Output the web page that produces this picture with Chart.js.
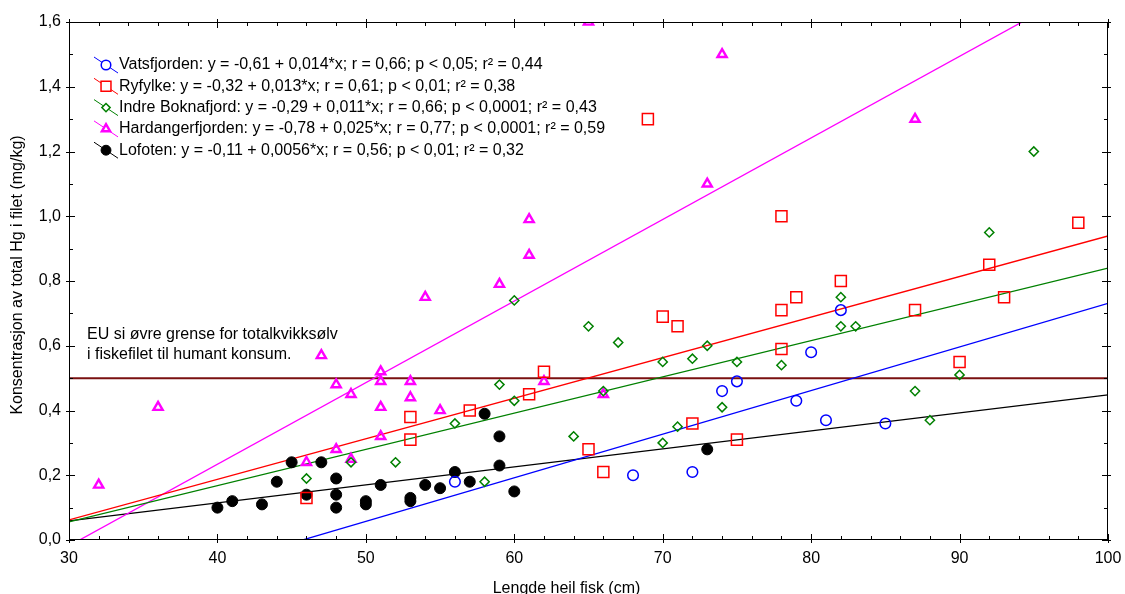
<!DOCTYPE html>
<html>
<head>
<meta charset="utf-8">
<script src="https://cdn.jsdelivr.net/npm/chart.js@4.4.1/dist/chart.umd.min.js"></script>
<style>
  html, body { margin: 0; padding: 0; background: #fff; }
  #wrap { width: 1125px; height: 594px; position: relative; }
</style>
</head>
<body>
<div id="wrap"><canvas id="hg-chart"></canvas></div>
<script>
// Length of whole fish (cm) and total Hg in fillet (mg/kg), per location
const vatsX = [56, 68, 72, 74, 75, 79, 80, 81, 82, 85];
const vatsY = [0.18, 0.20, 0.21, 0.46, 0.49, 0.43, 0.58, 0.37, 0.71, 0.36];

const ryfX = [46, 53, 53, 57, 61, 62, 65, 66, 69, 70, 71, 72, 75, 78, 78, 78, 79, 82, 87, 90, 92, 93, 98];
const ryfY = [0.13, 0.38, 0.31, 0.40, 0.45, 0.52, 0.28, 0.21, 1.30, 0.69, 0.66, 0.36, 0.31, 1.00, 0.71, 0.59, 0.75, 0.80, 0.71, 0.55, 0.85, 0.75, 0.98];

const boknX = [46, 49, 52, 56, 58, 59, 60, 60, 64, 65, 66, 67, 70, 70, 71, 72, 73, 74, 75, 78, 82, 82, 83, 87, 88, 90, 92, 95];
const boknY = [0.19, 0.24, 0.24, 0.36, 0.18, 0.48, 0.43, 0.74, 0.32, 0.66, 0.46, 0.61, 0.30, 0.55, 0.35, 0.56, 0.60, 0.41, 0.55, 0.54, 0.75, 0.66, 0.66, 0.46, 0.37, 0.51, 0.95, 1.20];

const hardX = [32, 36, 46, 47, 48, 48, 49, 49, 51, 51, 51, 51, 53, 53, 54, 55, 59, 61, 61, 62, 65, 66, 73, 74, 87];
const hardY = [0.17, 0.41, 0.24, 0.57, 0.48, 0.28, 0.45, 0.25, 0.52, 0.49, 0.41, 0.32, 0.49, 0.44, 0.75, 0.40, 0.79, 0.88, 0.99, 0.49, 1.60, 0.45, 1.10, 1.50, 1.30];

const lofX = [40, 41, 43, 44, 45, 46, 47, 48, 48, 48, 50, 50, 51, 53, 53, 54, 55, 56, 57, 58, 59, 59, 60, 73];
const lofY = [0.10, 0.12, 0.11, 0.18, 0.24, 0.14, 0.24, 0.19, 0.14, 0.10, 0.12, 0.11, 0.17, 0.13, 0.12, 0.17, 0.16, 0.21, 0.18, 0.39, 0.32, 0.23, 0.15, 0.28];

const seriesNames = ['Vatsfjorden', 'Ryfylke', 'Indre Boknafjord', 'Hardangerfjorden', 'Lofoten'];
const seriesStats = [
  'y = -0,61 + 0,014*x; r = 0,66; p < 0,05; r\u00b2 = 0,44',
  'y = -0,32 + 0,013*x; r = 0,61; p < 0,01; r\u00b2 = 0,38',
  'y = -0,29 + 0,011*x; r = 0,66; p < 0,0001; r\u00b2 = 0,43',
  'y = -0,78 + 0,025*x; r = 0,77; p < 0,0001; r\u00b2 = 0,59',
  'y = -0,11 + 0,0056*x; r = 0,56; p < 0,01; r\u00b2 = 0,32'
];

// fitted lines as they appear in the plot (intercept, slope)
const fitIntercept = [-0.616, -0.314, -0.28, -0.774, -0.108];
const fitSlope = [0.01347, 0.01253, 0.0112, 0.0252, 0.00556];
const fitRange = [30, 100];

// EU limit for mercury in fish fillet
const euLimit = 0.5;
const euText = ['EU si \u00f8vre grense for totalkvikks\u00f8lv', 'i fiskefilet til humant konsum.'];

const xTickValues = [30, 40, 50, 60, 70, 80, 90, 100];
const yTickValues = [0, 0.2, 0.4, 0.6, 0.8, 1.0, 1.2, 1.4, 1.6];
const xTitle = 'Lengde heil fisk (cm)';
const yTitle = 'Konsentrasjon av total Hg i filet (mg/kg)';

const FONT = '"Liberation Sans", Arial, sans-serif';
const colors = ['#0000ff', '#ff0000', '#008000', '#ff00ff', '#000000'];
const markers = [
  { pointStyle: 'circle', radius: 5.3, borderWidth: 1.5, fill: false },
  { pointStyle: 'rect', radius: 7.8, borderWidth: 1.5, fill: false },
  { pointStyle: 'rectRot', radius: 4.6, borderWidth: 1.5, fill: false },
  { pointStyle: 'triangle', radius: 5.3, borderWidth: 2.4, fill: false },
  { pointStyle: 'circle', radius: 5.5, borderWidth: 1, fill: true }
];

const xs = [vatsX, ryfX, boknX, hardX, lofX];
const ys = [vatsY, ryfY, boknY, hardY, lofY];

function pts(xa, ya) {
  return xa.map((x, i) => ({ x: x, y: ya[i] }));
}

const datasets = [];
// scatter points
for (let i = 0; i < 5; i++) {
  const m = markers[i];
  datasets.push({
    label: seriesNames[i],
    data: pts(xs[i], ys[i]),
    showLine: false,
    pointStyle: m.pointStyle,
    pointRadius: m.radius,
    pointBorderWidth: m.borderWidth,
    pointBorderColor: colors[i],
    pointBackgroundColor: m.fill ? colors[i] : 'rgba(0,0,0,0)',
    order: 0,
    clip: 0
  });
}
// regression lines
for (let i = 0; i < 5; i++) {
  datasets.push({
    label: seriesNames[i] + ' fit',
    data: fitRange.map(x => ({ x: x, y: fitIntercept[i] + fitSlope[i] * x })),
    showLine: true,
    borderColor: colors[i],
    borderWidth: 1.3,
    pointRadius: 0,
    order: 1,
    clip: 0
  });
}
// EU limit line
datasets.push({
  label: 'EU',
  data: fitRange.map(x => ({ x: x, y: euLimit })),
  showLine: true,
  borderColor: '#7a1010',
  borderWidth: 2,
  pointRadius: 0,
  order: 2,
  clip: 0
});

// frame, inward tick marks, axis titles, legend and EU note
const decorPlugin = {
  id: 'decor',
  afterDraw(chart) {
    const { ctx, chartArea: a, scales: { x, y } } = chart;
    ctx.save();
    ctx.strokeStyle = '#000';
    ctx.lineWidth = 1;
    ctx.strokeRect(a.left + 0.5, a.top + 0.5, a.right - a.left - 1, a.bottom - a.top - 1);

    ctx.beginPath();
    for (let v = 30; v <= 100; v += 2) {
      const px = Math.round(x.getPixelForValue(v)) + 0.5;
      const major = v % 10 === 0;
      const inL = major ? 6 : 4, outL = major ? 3 : 0;
      ctx.moveTo(px, a.bottom + outL); ctx.lineTo(px, a.bottom - inL);
      ctx.moveTo(px, a.top - outL); ctx.lineTo(px, a.top + inL);
    }
    for (let k = 0; k <= 16; k++) {
      const py = Math.round(y.getPixelForValue(k / 10)) + 0.5;
      const major = k % 2 === 0;
      const inL = major ? 6 : 4, outL = major ? 3 : 0;
      ctx.moveTo(a.left - outL, py); ctx.lineTo(a.left + inL, py);
      ctx.moveTo(a.right + outL, py); ctx.lineTo(a.right - inL, py);
    }
    ctx.stroke();

    // axis titles
    ctx.fillStyle = '#000';
    ctx.font = '16px ' + FONT;
    ctx.textAlign = 'center';
    ctx.textBaseline = 'middle';
    ctx.fillText(xTitle, (a.left + a.right) / 2 - 22, a.bottom + 49);
    ctx.save();
    ctx.translate(18, (a.top + a.bottom) / 2 - 6);
    ctx.rotate(-Math.PI / 2);
    ctx.fillText(yTitle, 0, 0);
    ctx.restore();

    // EU note
    ctx.textAlign = 'left';
    const yEu = y.getPixelForValue(euLimit);
    ctx.fillText(euText[0], a.left + 18, yEu - 44);
    ctx.fillText(euText[1], a.left + 18, yEu - 24);

    // legend
    for (let i = 0; i < 5; i++) {
      const cy = a.top + 43 + i * 21.3;
      const cx = a.left + 37;
      ctx.strokeStyle = colors[i];
      ctx.lineWidth = 1;
      ctx.beginPath();
      ctx.moveTo(cx - 12, cy - 8);
      ctx.lineTo(cx + 12, cy + 8);
      ctx.stroke();
      const m = markers[i];
      ctx.fillStyle = m.fill ? colors[i] : '#fff';
      ctx.lineWidth = m.borderWidth;
      Chart.helpers.drawPoint(ctx, {
        pointStyle: m.pointStyle,
        radius: m.radius * 0.9,
        borderWidth: m.borderWidth,
        rotation: 0
      }, cx, cy);
      ctx.fillStyle = '#000';
      ctx.fillText(seriesNames[i] + ': ' + seriesStats[i], cx + 13, cy);
    }
    ctx.restore();
  }
};

const hgCtx = document.getElementById('hg-chart').getContext('2d');
const hgChart = new Chart(hgCtx, {
  type: 'scatter',
  data: { datasets: datasets },
  options: {
    responsive: true,
    maintainAspectRatio: false,
    animation: false,
    layout: { padding: { top: 22, right: 17, left: 0, bottom: 0 } },
    plugins: { legend: { display: false }, tooltip: { enabled: false } },
    scales: {
      x: {
        type: 'linear',
        min: 30, max: 100,
        grid: { display: false, drawTicks: false },
        border: { display: false },
        afterBuildTicks: s => { s.ticks = xTickValues.map(v => ({ value: v })); },
        afterFit: s => { s.height = 54; s.paddingLeft = 0; s.paddingRight = 0; },
        ticks: {
          padding: 9,
          color: '#000',
          font: { family: FONT, size: 16 },
          maxRotation: 0,
          callback: v => String(v)
        }
      },
      y: {
        type: 'linear',
        min: 0, max: 1.6,
        grid: { display: false, drawTicks: false },
        border: { display: false },
        afterBuildTicks: s => { s.ticks = yTickValues.map(v => ({ value: v })); },
        afterFit: s => { s.width = 69; s.paddingTop = 0; s.paddingBottom = 0; },
        ticks: {
          padding: 8,
          color: '#000',
          font: { family: FONT, size: 16 },
          callback: v => Number(v).toFixed(1).replace('.', ',')
        }
      }
    }
  },
  plugins: [decorPlugin]
});
</script>
</body>
</html>
